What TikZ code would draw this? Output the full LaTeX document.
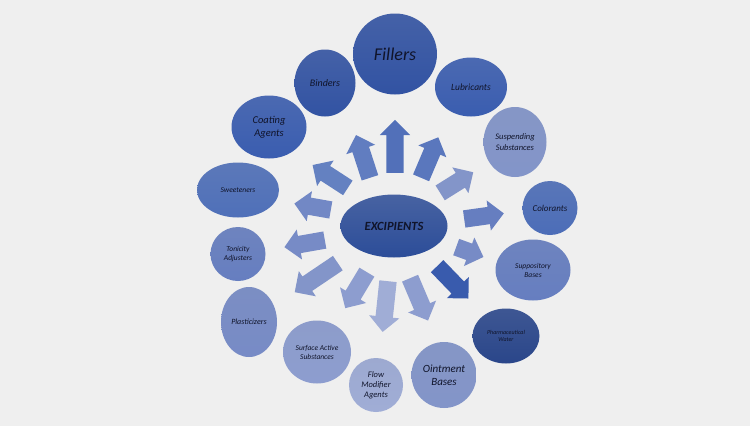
\documentclass[tikz,border=0pt]{standalone}
\usepackage{fontspec}
\setmainfont{Carlito}
\usepackage{tikz}
\usetikzlibrary{shapes.geometric,shapes.arrows}
\definecolor{bgpage}{HTML}{EFEFEF}
\definecolor{inkdark}{HTML}{10142A}
\definecolor{hubblue}{HTML}{2C4D99}
\definecolor{deepblue}{HTML}{3253A3}
\definecolor{royalblue}{HTML}{3A5DB0}
\definecolor{midblue}{HTML}{4F70B9}
\definecolor{softblue}{HTML}{667EC0}
\definecolor{paleblue}{HTML}{778BC6}
\definecolor{mistblue}{HTML}{8395C9}
\definecolor{fogblue}{HTML}{8D9DCF}
\definecolor{iceblue}{HTML}{A0ADD6}
\definecolor{navyblue}{HTML}{2A468A}
\definecolor{topgrey}{HTML}{8E9AB8}
\tikzset{
  bubble/.style={ellipse, inner sep=0pt, align=center, text=inkdark, top color=#1!80!topgrey, bottom color=#1},
  hub/.style={ellipse, inner sep=0pt, align=center, text=inkdark, top color=#1!72!topgrey, bottom color=#1, font=\bfseries\itshape\fontsize{12.5}{14}\selectfont},
  spoke/.style={single arrow, single arrow tip angle=90, single arrow head extend=6.5pt, inner xsep=0pt, inner ysep=8.5pt, minimum width=30pt, anchor=tail, fill=#1},
  txt/.style={font=\itshape\fontsize{#1}{\dimexpr #1pt*6/5\relax}\selectfont}
}

\begin{document}
\begin{tikzpicture}[x=1pt,y=-1pt]
  \fill[bgpage] (0,0) rectangle (750,426);
  \useasboundingbox (0,0) rectangle (750,426);

  \node[hub=hubblue, minimum width=107pt, minimum height=63pt] (excip) at (394,226) {EXCIPIENTS};

  \node[bubble=deepblue, minimum width=84pt, minimum height=81pt, txt=18] (fillers) at (395,54) {Fillers};
  \node[bubble=deepblue, minimum width=61pt, minimum height=67pt, txt=10] (binders) at (325,83) {Binders};
  \node[bubble=royalblue, minimum width=72pt, minimum height=59pt, txt=9.5] (lubric) at (471,87) {Lubricants};
  \node[bubble=royalblue, minimum width=75pt, minimum height=63pt, txt=10.5] (coating) at (269,127) {Coating\\Agents};
  \node[bubble=mistblue, minimum width=63pt, minimum height=70pt, txt=8.5] (suspend) at (515,142) {Suspending\\Substances};
  \node[bubble=midblue, minimum width=82pt, minimum height=55pt, txt=7.5] (sweet) at (238,190) {Sweeteners};
  \node[bubble=midblue!85!royalblue, minimum width=55pt, minimum height=54pt, txt=9] (color) at (550,208) {Colorants};
  \node[bubble=softblue, minimum width=75pt, minimum height=61pt, txt=7.5] (suppos) at (533,270) {Suppository\\Bases};
  \node[bubble=navyblue, minimum width=67pt, minimum height=55pt, txt=6] (water) at (506,336) {Pharmaceutical\\Water};
  \node[bubble=mistblue, minimum width=65pt, minimum height=66pt, txt=11] (ointment) at (444,375) {Ointment\\Bases};
  \node[bubble=iceblue, minimum width=54pt, minimum height=54pt, txt=8.5] (flow) at (376,385) {Flow\\Modifier\\Agents};
  \node[bubble=fogblue, minimum width=68pt, minimum height=63pt, txt=7.5] (surface) at (317,352) {Surface Active\\Substances};
  \node[bubble=paleblue, minimum width=56pt, minimum height=70pt, txt=8] (plastic) at (249,322) {Plasticizers};
  \node[bubble=softblue, minimum width=55pt, minimum height=54pt, txt=7.5] (tonic) at (238,254) {Tonicity\\Adjusters};

  \node[spoke=royalblue!88!white, rotate=90, minimum height=53pt] (toFillers) at (395,173) {};
  \node[spoke=royalblue!80!white, rotate=108, minimum height=45pt] (toBinders) at (370,178) {};
  \node[spoke=royalblue!84!white, rotate=67, minimum height=44pt] (toLubric) at (421,178) {};
  \node[spoke=midblue!88!white, rotate=147, minimum height=42pt] (toCoating) at (348,188) {};
  \node[spoke=mistblue, rotate=32, minimum height=39pt] (toSuspend) at (440,193) {};
  \node[spoke=softblue!92!white, rotate=170, minimum height=37pt] (toSweet) at (331,210) {};
  \node[spoke=paleblue, rotate=190, minimum height=41pt] (toTonic) at (325,240) {};
  \node[spoke=mistblue, rotate=214, minimum height=52pt] (toPlastic) at (338,263) {};
  \node[spoke=fogblue, rotate=239, minimum height=42pt] (toSurface) at (367,272) {};
  \node[spoke=iceblue, rotate=264, minimum height=51pt] (toFlow) at (388,281) {};
  \node[spoke=fogblue, rotate=293, minimum height=46pt] (toOintment) at (410,278) {};
  \node[spoke=royalblue!92!navyblue, rotate=314, minimum height=45pt] (toWater) at (437,266) {};
  \node[spoke=paleblue, rotate=-20, minimum height=29pt] (toSuppos) at (456,247) {};
  \node[spoke=softblue, rotate=8, minimum height=40pt] (toColor) at (464,219) {};
\end{tikzpicture}
\end{document}
